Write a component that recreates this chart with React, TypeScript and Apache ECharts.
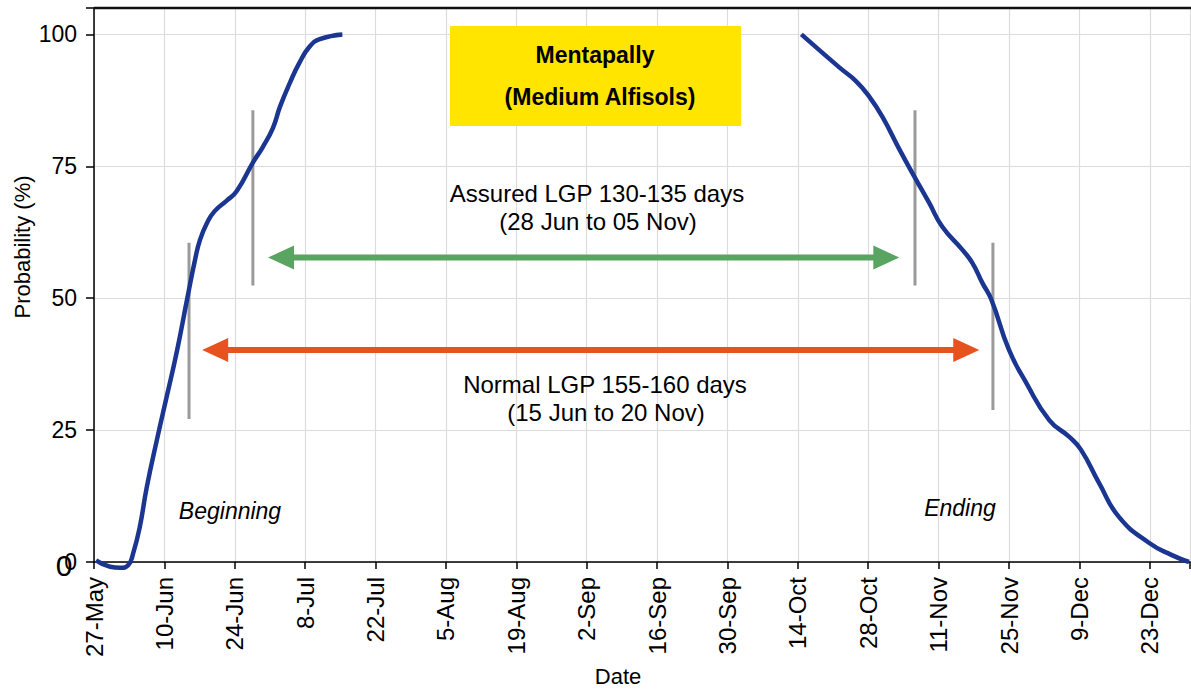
import React, { useEffect, useRef } from "react";
import * as echarts from "echarts";

// x values are days counted from 27-May
const tickLabels = [
  "27-May", "10-Jun", "24-Jun", "8-Jul", "22-Jul", "5-Aug", "19-Aug", "2-Sep",
  "16-Sep", "30-Sep", "14-Oct", "28-Oct", "11-Nov", "25-Nov", "9-Dec", "23-Dec",
];

const beginDays = [0.4, 3.2, 5.2, 6.8, 7.8, 9.1, 10.5, 12.5, 14.5, 16.5, 18.5, 20.1, 21.1, 22.5, 24.0, 26.4, 28.4, 31.6, 33.6, 35.6, 37.0, 39.0, 40.9, 42.9, 44.9, 49.4];
const beginProb = [0.3, -0.9, -1.1, -0.6, 1.7, 6.6, 14.2, 23.1, 31.5, 40.0, 49.7, 57.3, 61.1, 64.3, 66.5, 68.5, 70.3, 75.7, 78.7, 82.3, 86.3, 90.9, 94.7, 97.7, 99.1, 100];

const endDays = [140.7, 148.3, 151.6, 154.2, 156.8, 160.2, 163.2, 166.1, 168.7, 172.7, 174.7, 176.7, 178.5, 182.0, 185.4, 190.0, 194.0, 196.3, 199.9, 203.9, 209.9, 214.4, 217.8];
const endProb = [100, 93.7, 91.1, 88.2, 84.4, 78.2, 73.0, 68.1, 63.6, 59.2, 56.7, 52.9, 49.7, 40.2, 34.0, 26.9, 23.7, 21.3, 15.0, 8.5, 3.6, 1.3, 0];

// vertical grey markers: [day, bottom, top]
const markerLines = [
  [18.9, 27.1, 60.5],
  [31.6, 52.4, 85.6],
  [163.3, 52.4, 85.6],
  [178.8, 28.8, 60.5],
];

// arrows (centres of the two heads): [startDay, endDay, probability]
const assuredArrow = [37.2, 157.6, 57.7];
const normalArrow = [24.1, 173.5, 40.2];

const FONT = "'Liberation Sans', Arial, Helvetica, sans-serif";

export default function App() {
  const ref = useRef<HTMLDivElement>(null);

  useEffect(() => {
    document.body.style.margin = "0";
    const chart = echarts.init(ref.current!, null, { renderer: "svg" });

    const curve = (days: number[], prob: number[]) => ({
      type: "line",
      data: days.map((d, i) => [d, prob[i]]),
      smooth: 0.5,
      symbol: "none",
      clip: false,
      lineStyle: { color: "#1B3690", width: 4.5 },
      z: 4,
    });

    const grey = markerLines.map((m) => ({
      type: "line",
      data: [[m[0], m[1]], [m[0], m[2]]],
      symbol: "none",
      lineStyle: { color: "#9a9a9a", width: 3 },
      z: 3,
    }));

    const arrow = (a: number[], color: string) => ({
      type: "line",
      showSymbol: true,
      data: [
        { value: [a[0], a[2]], symbol: "triangle", symbolRotate: 90, symbolSize: [24, 26] },
        { value: [a[1], a[2]], symbol: "triangle", symbolRotate: -90, symbolSize: [24, 26] },
      ],
      lineStyle: { color, width: 6 },
      itemStyle: { color },
      z: 3,
    });

    const txt = (x: number, y: number, text: string, extra: any = {}) => ({
      type: "text",
      x,
      y,
      z: 10,
      style: {
        text,
        x: 0,
        y: 0,
        fill: "#000",
        font: `24px ${FONT}`,
        textAlign: "center",
        textVerticalAlign: "middle",
        ...extra,
      },
    });

    chart.setOption({
      animation: false,
      grid: { left: 94, right: 1, top: 8, bottom: 128, containLabel: false },
      xAxis: {
        type: "value",
        min: 0,
        max: 218,
        interval: 14,
        axisLine: { show: true, lineStyle: { color: "#000", width: 1.5 } },
        axisTick: { show: true, length: 7, lineStyle: { color: "#000", width: 1.5 } },
        axisLabel: {
          rotate: 90,
          margin: 15,
          fontSize: 24,
          fontFamily: FONT,
          color: "#000",
          formatter: (v: number) => (v % 14 === 0 ? tickLabels[v / 14] ?? "" : ""),
        },
        splitLine: { show: true, lineStyle: { color: "#dcdcdc", width: 1.2 } },
      },
      yAxis: {
        type: "value",
        min: 0,
        max: 105,
        interval: 25,
        axisLine: { show: true, lineStyle: { color: "#000", width: 1.5 } },
        axisTick: { show: true, length: 8, lineStyle: { color: "#000", width: 1.5 } },
        axisLabel: {
          margin: 17,
          fontSize: 23,
          fontFamily: FONT,
          color: "#000",
          formatter: (v: number) => (v % 25 === 0 && v <= 100 ? String(v) : ""),
        },
        splitLine: { show: true, lineStyle: { color: "#dcdcdc", width: 1.2 } },
      },
      series: [
        curve(beginDays, beginProb),
        curve(endDays, endProb),
        ...grey,
        arrow(assuredArrow, "#5AA462"),
        arrow(normalArrow, "#E7531F"),
      ],
      graphic: [
        { type: "line", z: 10, shape: { x1: 94, y1: 8, x2: 1191, y2: 8 }, style: { stroke: "#111", lineWidth: 2.5 } },
        { type: "rect", z: 8, shape: { x: 450, y: 26, width: 291, height: 100 }, style: { fill: "#FFE500" } },
        txt(595, 55, "Mentapally", { font: `bold 23px ${FONT}` }),
        txt(600, 97, "(Medium Alfisols)", { font: `bold 23px ${FONT}` }),
        txt(597, 193, "Assured LGP 130-135 days"),
        txt(598, 221, "(28 Jun to 05 Nov)"),
        txt(605, 384, "Normal LGP 155-160 days"),
        txt(606, 412, "(15 Jun to 20 Nov)"),
        txt(230, 511, "Beginning", { font: `italic 23px ${FONT}` }),
        txt(960, 508, "Ending", { font: `italic 23px ${FONT}` }),
        txt(64, 565, "0", { font: `30px ${FONT}` }),
        txt(618, 676, "Date", { font: `22px ${FONT}` }),
        { ...txt(22, 247, "Probability (%)", { font: `22px ${FONT}` }), rotation: Math.PI / 2 },
      ],
    });

    return () => chart.dispose();
  }, []);

  return (
    <div
      ref={ref}
      style={{ position: "absolute", left: 0, top: 0, width: 1191, height: 690 }}
    />
  );
}
